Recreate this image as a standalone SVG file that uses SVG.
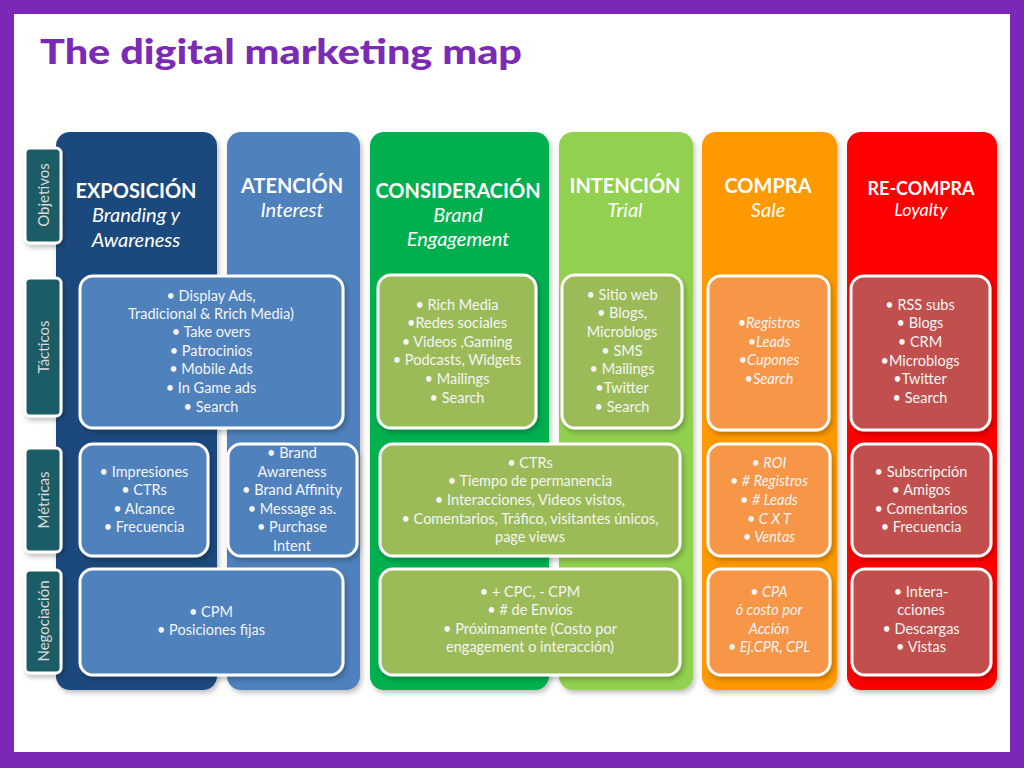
<svg xmlns="http://www.w3.org/2000/svg" width="1024" height="768" viewBox="0 0 1024 768">
<defs>
<filter id="sh" x="-10%" y="-10%" width="125%" height="125%">
<feDropShadow dx="2" dy="3" stdDeviation="2.5" flood-color="#000" flood-opacity="0.25"/>
</filter>
<style>
.col{filter:url(#sh)}
.cell{stroke:#fff;stroke-width:3;filter:url(#sh)}
.lab{fill:#1F5C66;stroke:#fff;stroke-width:3;filter:url(#sh)}
.blue{fill:#4F81BD}
.olive{fill:#9BBB59}
.orng{fill:#F79646}
.redc{fill:#C0504D}
text{font-family:Lato,"Open Sans","Liberation Sans",sans-serif;fill:#F5F5F5;text-anchor:middle}
.t{font-size:14.5px}
.i{font-style:italic}
.h{font-weight:bold;font-size:20px;fill:#fff}
.hs{font-style:italic;font-size:20px;fill:#fff}
.lt{font-size:15px;fill:#D9D9D9}
</style>
</defs>
<rect x="0" y="0" width="1024" height="768" fill="#7B27B8"/>
<rect x="14" y="14" width="996" height="738" fill="#fff"/>
<text x="40" y="64" style="font-family:Lato,'Open Sans',sans-serif;font-weight:900;font-size:35px;fill:#7B2AB6;text-anchor:start" textLength="482" lengthAdjust="spacingAndGlyphs">The digital marketing map</text>

<g id="columns">
<rect id="col-exposicion" class="col" x="56" y="132" width="161" height="558" rx="14" fill="#1F497D"/>
<rect id="col-atencion" class="col" x="227" y="132" width="133" height="558" rx="14" fill="#4F81BD"/>
<rect id="col-consideracion" class="col" x="370" y="132" width="179" height="558" rx="14" fill="#00B050"/>
<rect id="col-intencion" class="col" x="559" y="132" width="134" height="558" rx="14" fill="#92D050"/>
<rect id="col-compra" class="col" x="702" y="132" width="135" height="558" rx="14" fill="#FF9900"/>
<rect id="col-recompra" class="col" x="847" y="132" width="150" height="558" rx="14" fill="#FF0000"/>
</g>

<g id="headers">
<text class="h" x="136" y="198">EXPOSICIÓN</text>
<text class="hs" x="136" y="222">Branding y</text>
<text class="hs" x="136" y="247">Awareness</text>
<text class="h" x="292" y="193">ATENCIÓN</text>
<text class="hs" x="292" y="217">Interest</text>
<text class="h" x="458" y="198">CONSIDERACIÓN</text>
<text class="hs" x="458" y="222">Brand</text>
<text class="hs" x="458" y="246">Engagement</text>
<text class="h" x="625" y="193">INTENCIÓN</text>
<text class="hs" x="625" y="217">Trial</text>
<text class="h" x="768" y="193">COMPRA</text>
<text class="hs" x="768" y="217">Sale</text>
<text class="h" x="921" y="195" style="font-size:18px">RE-COMPRA</text>
<text class="hs" x="921" y="216" style="font-size:18px">Loyalty</text>
</g>

<g id="row-labels">
<g id="lbl-objetivos"><rect class="lab" x="25" y="148" width="36" height="95" rx="5"/><text class="lt" transform="translate(49,195) rotate(-90)">Objetivos</text></g>
<g id="lbl-tacticos"><rect class="lab" x="25" y="278" width="36" height="138" rx="5"/><text class="lt" transform="translate(49,347) rotate(-90)">Tácticos</text></g>
<g id="lbl-metricas"><rect class="lab" x="25" y="448" width="36" height="104" rx="5"/><text class="lt" transform="translate(49,500) rotate(-90)">Métricas</text></g>
<g id="lbl-negociacion"><rect class="lab" x="25" y="570" width="36" height="103" rx="5"/><text class="lt" transform="translate(49,621) rotate(-90)">Negociación</text></g>
</g>

<g id="tacticos">
<g id="t-exp"><rect class="cell blue" x="80" y="276" width="263" height="152" rx="13"/>
<text class="t" x="211" y="301">• Display Ads,</text>
<text class="t" x="211" y="319">Tradicional &amp; Rrich Media)</text>
<text class="t" x="211" y="337">• Take overs</text>
<text class="t" x="211" y="356">• Patrocinios</text>
<text class="t" x="211" y="374">• Mobile Ads</text>
<text class="t" x="211" y="393">• In Game ads</text>
<text class="t" x="211" y="412">• Search</text></g>
<g id="t-con"><rect class="cell olive" x="378" y="275" width="158" height="153" rx="13"/>
<text class="t" x="457" y="310">• Rich Media</text>
<text class="t" x="457" y="328">•Redes sociales</text>
<text class="t" x="457" y="347">• Videos ,Gaming</text>
<text class="t" x="457" y="365">• Podcasts, Widgets</text>
<text class="t" x="457" y="384">• Mailings</text>
<text class="t" x="457" y="403">• Search</text></g>
<g id="t-int"><rect class="cell olive" x="562" y="275" width="120" height="153" rx="13"/>
<text class="t" x="622" y="300">• Sitio web</text>
<text class="t" x="622" y="318">• Blogs,</text>
<text class="t" x="622" y="337">Microblogs</text>
<text class="t" x="622" y="356">• SMS</text>
<text class="t" x="622" y="374">• Mailings</text>
<text class="t" x="622" y="393">•Twitter</text>
<text class="t" x="622" y="412">• Search</text></g>
<g id="t-com"><rect class="cell orng" x="708" y="276" width="121" height="154" rx="13"/>
<text class="t i" x="769" y="328">•Registros</text>
<text class="t i" x="769" y="347">•Leads</text>
<text class="t i" x="769" y="365">•Cupones</text>
<text class="t i" x="769" y="384">•Search</text></g>
<g id="t-rec"><rect class="cell redc" x="851" y="276" width="139" height="154" rx="13"/>
<text class="t" x="920" y="310">• RSS subs</text>
<text class="t" x="920" y="328">• Blogs</text>
<text class="t" x="920" y="347">• CRM</text>
<text class="t" x="920" y="366">•Microblogs</text>
<text class="t" x="920" y="384">•Twitter</text>
<text class="t" x="920" y="403">• Search</text></g>
</g>

<g id="metricas">
<g id="m-exp"><rect class="cell blue" x="80" y="444" width="128" height="112" rx="13"/>
<text class="t" x="144" y="477">• Impresiones</text>
<text class="t" x="144" y="495">• CTRs</text>
<text class="t" x="144" y="514">• Alcance</text>
<text class="t" x="144" y="532">• Frecuencia</text></g>
<g id="m-ate"><rect class="cell blue" x="228" y="444" width="129" height="112" rx="13"/>
<text class="t" x="292" y="458">•  Brand</text>
<text class="t" x="292" y="477">Awareness</text>
<text class="t" x="292" y="495">• Brand Affinity</text>
<text class="t" x="292" y="514">• Message as.</text>
<text class="t" x="292" y="532">• Purchase</text>
<text class="t" x="292" y="551">Intent</text></g>
<g id="m-con"><rect class="cell olive" x="380" y="444" width="300" height="112" rx="13"/>
<text class="t" x="530" y="468">• CTRs</text>
<text class="t" x="530" y="486">• Tiempo de permanencia</text>
<text class="t" x="530" y="505">• Interacciones, Videos vistos,</text>
<text class="t" x="530" y="524">• Comentarios, Tráfico, visitantes únicos,</text>
<text class="t" x="530" y="542">page views</text></g>
<g id="m-com"><rect class="cell orng" x="708" y="444" width="122" height="112" rx="13"/>
<text class="t i" x="769" y="468">• ROI</text>
<text class="t i" x="769" y="486">• # Registros</text>
<text class="t i" x="769" y="505">• # Leads</text>
<text class="t i" x="769" y="524">• C X T</text>
<text class="t i" x="769" y="542">• Ventas</text></g>
<g id="m-rec"><rect class="cell redc" x="852" y="444" width="139" height="112" rx="13"/>
<text class="t" x="921" y="477">• Subscripción</text>
<text class="t" x="921" y="495">• Amigos</text>
<text class="t" x="921" y="514">• Comentarios</text>
<text class="t" x="921" y="532">• Frecuencia</text></g>
</g>

<g id="negociacion">
<g id="n-exp"><rect class="cell blue" x="80" y="569" width="263" height="106" rx="13"/>
<text class="t" x="211" y="617">• CPM</text>
<text class="t" x="211" y="635">• Posiciones fijas</text></g>
<g id="n-con"><rect class="cell olive" x="380" y="569" width="300" height="106" rx="13"/>
<text class="t" x="530" y="597">• + CPC, - CPM</text>
<text class="t" x="530" y="615">• # de Envíos</text>
<text class="t" x="530" y="634">• Próximamente (Costo por</text>
<text class="t" x="530" y="652">engagement o interacción)</text></g>
<g id="n-com"><rect class="cell orng" x="708" y="569" width="122" height="106" rx="13"/>
<text class="t i" x="769" y="597">• CPA</text>
<text class="t i" x="769" y="615">ó costo por</text>
<text class="t i" x="769" y="634">Acción</text>
<text class="t i" x="769" y="652">• Ej.CPR, CPL</text></g>
<g id="n-rec"><rect class="cell redc" x="852" y="569" width="139" height="106" rx="13"/>
<text class="t" x="921" y="597">• Intera-</text>
<text class="t" x="921" y="615">cciones</text>
<text class="t" x="921" y="634">• Descargas</text>
<text class="t" x="921" y="652">• Vistas</text></g>
</g>
</svg>
